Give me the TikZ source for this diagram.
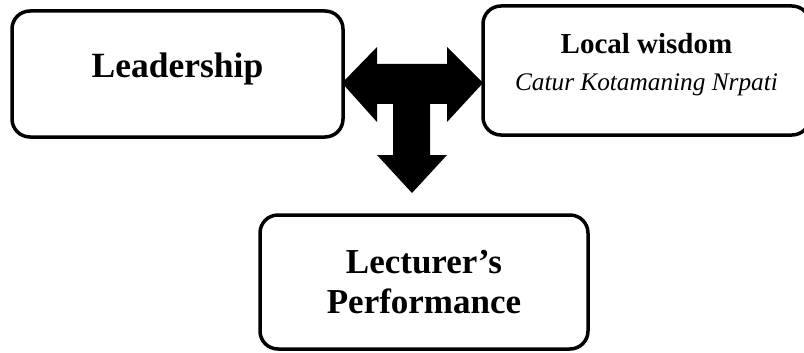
\documentclass[tikz,border=0pt]{standalone}
\usepackage{fontspec}
\setmainfont{Liberation Serif}
\usepackage{tikz}
\newcommand{\sink}[1]{\rule[-#1]{0pt}{1pt}}

\begin{document}
\begin{tikzpicture}[x=1pt,y=-1pt,
		box/.style={draw,line width=3.5pt,rounded corners=18pt,inner sep=0pt,align=center}]
		\useasboundingbox (0,0) rectangle (804,353);
		\begin{scope}[thick]
			\node[box,minimum width=331,minimum height=126,
				font=\fontsize{35.5}{40}\selectfont\bfseries] (lead) at (177.5,74) {Leadership\sink{18pt}};
			\node[box,minimum width=327,minimum height=129,
				font=\fontsize{29}{37}\selectfont\bfseries] (wisdom) at (646.5,70.5)
				{Local wisdom\\ \fontsize{25.3}{37}\selectfont\mdseries\itshape Catur Kotamaning Nrpati\sink{18pt}};
			\node[box,minimum width=328,minimum height=134,
				font=\fontsize{35}{40}\selectfont\bfseries] (perf) at (424,282) {Lecturer’s\\Performance};

			% the T shaped arrow
			\fill (342,83) -- (377,47) -- (377,64) -- (447,64) -- (447,47) -- (483,83)
				-- (447,122) -- (447,104) -- (430,104) -- (430,155) -- (447,155) -- (412,193)
				-- (377,155) -- (393,155) -- (393,104) -- (377,104) -- (377,122) -- cycle;
		\end{scope}
	\end{tikzpicture}
\end{document}
